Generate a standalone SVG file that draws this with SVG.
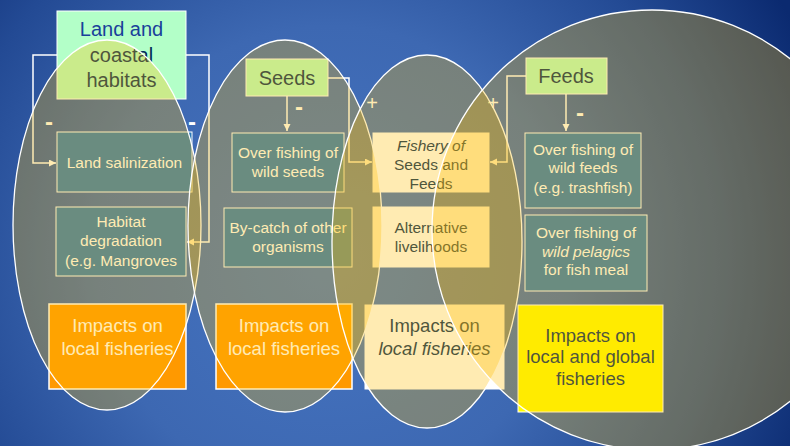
<svg xmlns="http://www.w3.org/2000/svg" width="790" height="446" viewBox="0 0 790 446">
<defs>
<radialGradient id="bg" gradientUnits="userSpaceOnUse" cx="330" cy="260" r="520">
<stop offset="0" stop-color="#4675c2"/>
<stop offset="0.45" stop-color="#3d68b2"/>
<stop offset="0.75" stop-color="#234a94"/>
<stop offset="1" stop-color="#0b2a70"/>
</radialGradient>
<marker id="arr" markerWidth="8" markerHeight="8" refX="7" refY="3.5" orient="auto" markerUnits="userSpaceOnUse">
<path d="M0,0 L7,3.5 L0,7 z" fill="#ffffff"/>
</marker>
</defs>
<style>
text{font-family:"Liberation Sans",Arial,sans-serif;text-anchor:middle}
.mint{fill:#b3ffc8;stroke:#ffffff;stroke-width:1}
.teal{fill:#2a78b8;stroke:#ffffff;stroke-width:1}
.orange{fill:#ff9900;stroke:#ffffff;stroke-width:1.5}
.light{fill:#ffffff;stroke:#ffffff;stroke-width:1}
.yellow{fill:#ffff00;stroke:#ffffff;stroke-width:1}
.lt{fill:#ffffff;font-size:15.5px}
.dk{fill:#002a58}
.imp{font-size:18.5px}
.hd{font-size:20px}
.con{fill:none;stroke:#ffffff;stroke-width:1.5}
.sign{fill:#ffffff;font-size:24px;font-weight:bold}
.plus{fill:#ffffff;font-size:20px}
.oval{fill:#ffbe00;fill-opacity:0.3;stroke:#ffffff;stroke-width:1.3}
</style>
<rect width="790" height="446" fill="url(#bg)"/>

<g id="connectors">
<path class="con" d="M57,55 H33 V163 H56" marker-end="url(#arr)"/>
<path class="con" d="M186,55 H209 V242 H187" marker-end="url(#arr)"/>
<path class="con" d="M287,96 V131" marker-end="url(#arr)"/>
<path class="con" d="M328,78 H349 V162 H372" marker-end="url(#arr)"/>
<path class="con" d="M526,76 H507 V162 H490" marker-end="url(#arr)"/>
<path class="con" d="M566,94 V131" marker-end="url(#arr)"/>
<text class="sign" x="49" y="130">-</text>
<text class="sign" x="192" y="130">-</text>
<text class="sign" x="299" y="115">-</text>
<text class="sign" x="580" y="121">-</text>
<text class="plus" x="372" y="110">+</text>
<text class="plus" x="493" y="110">+</text>
</g>

<g id="land-coastal-habitats">
<rect class="mint" x="57" y="11" width="129" height="88"/>
<text class="hd" x="121.5" y="36" fill="#1a3f9a">Land and</text>
<text class="hd dk" x="121.5" y="62">coastal</text>
<text class="hd dk" x="121.5" y="87">habitats</text>
</g>
<g id="land-salinization">
<rect class="teal" x="57" y="132" width="135" height="60"/>
<text class="lt" x="124.5" y="168">Land salinization</text>
</g>
<g id="habitat-degradation">
<rect class="teal" x="56" y="207" width="130" height="69"/>
<text class="lt" x="121" y="227">Habitat</text>
<text class="lt" x="121" y="246">degradation</text>
<text class="lt" x="121" y="266">(e.g. Mangroves</text>
</g>
<g id="impacts-1">
<rect class="orange" x="49" y="304" width="137" height="85"/>
<text class="imp" x="117.5" y="332" fill="#ffffff">Impacts on</text>
<text class="imp" x="117.5" y="355" fill="#ffffff">local fisheries</text>
</g>

<g id="seeds">
<rect class="mint" x="246" y="59" width="82" height="37"/>
<text class="hd dk" x="287" y="85">Seeds</text>
</g>
<g id="overfishing-seeds">
<rect class="teal" x="232" y="133" width="112" height="59"/>
<text class="lt" x="288" y="158">Over fishing of</text>
<text class="lt" x="288" y="177">wild seeds</text>
</g>
<g id="bycatch">
<rect class="teal" x="224" y="208" width="128" height="59"/>
<text class="lt" x="288" y="233">By-catch of other</text>
<text class="lt" x="288" y="252">organisms</text>
</g>
<g id="impacts-2">
<rect class="orange" x="216" y="304" width="136" height="85"/>
<text class="imp" x="284" y="332" fill="#ffffff">Impacts on</text>
<text class="imp" x="284" y="355" fill="#ffffff">local fisheries</text>
</g>

<g id="fishery-seeds-feeds">
<rect class="light" x="373" y="133" width="116" height="59"/>
<text class="lt dk" x="431" y="151" font-style="italic">Fishery of</text>
<text class="lt dk" x="431" y="170">Seeds and</text>
<text class="lt dk" x="431" y="189">Feeds</text>
</g>
<g id="alternative-livelihoods">
<rect class="light" x="373" y="207" width="116" height="60"/>
<text class="lt dk" x="431" y="233">Alternative</text>
<text class="lt dk" x="431" y="252">livelihoods</text>
</g>
<g id="impacts-3">
<rect class="light" x="365" y="305" width="139" height="84"/>
<text class="imp dk" x="434.5" y="332">Impacts on</text>
<text class="imp dk" x="434.5" y="355" font-style="italic">local fisheries</text>
</g>

<g id="feeds">
<rect class="mint" x="526" y="58" width="81" height="36"/>
<text class="hd dk" x="566" y="83">Feeds</text>
</g>
<g id="overfishing-feeds">
<rect class="teal" x="525" y="133" width="116" height="75"/>
<text class="lt" x="583" y="155">Over fishing of</text>
<text class="lt" x="583" y="173">wild feeds</text>
<text class="lt" x="583" y="193">(e.g. trashfish)</text>
</g>
<g id="overfishing-pelagics">
<rect class="teal" x="525" y="215" width="122" height="76"/>
<text class="lt" x="586" y="238">Over fishing of</text>
<text class="lt" x="586" y="257" font-style="italic">wild pelagics</text>
<text class="lt" x="586" y="275">for fish meal</text>
</g>
<g id="impacts-4">
<rect class="yellow" x="518" y="305" width="145" height="107"/>
<text class="imp dk" x="590.5" y="342">Impacts on</text>
<text class="imp dk" x="590.5" y="363">local and global</text>
<text class="imp dk" x="590.5" y="385">fisheries</text>
</g>

<g id="overlays">
<ellipse class="oval" cx="107" cy="225" rx="94" ry="185"/>
<ellipse class="oval" cx="285" cy="226" rx="97" ry="186"/>
<ellipse class="oval" cx="427" cy="241.5" rx="95" ry="186.5"/>
<circle class="oval" cx="652" cy="230" r="220"/>
</g>
</svg>
